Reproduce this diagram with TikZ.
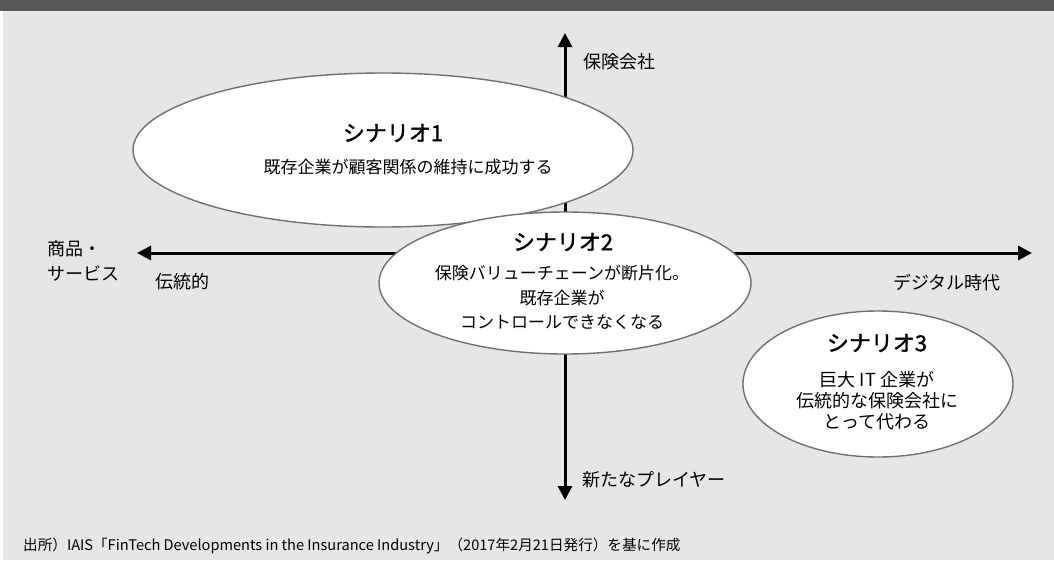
\documentclass[tikz,border=0pt]{standalone}
\usepackage{fontspec}
\setmainfont{Noto Sans CJK JP}
\newfontfamily\ttlfont[FakeBold=1.6]{Noto Sans CJK JP}
\usetikzlibrary{arrows.meta,shapes.geometric}
\definecolor{bgc}{HTML}{E6E6E6}
\definecolor{barc}{HTML}{595757}
\definecolor{edgec}{HTML}{707070}
\begin{document}
\begin{tikzpicture}[x=1pt,y=-1pt,
  axis/.style={line width=3pt, {Triangle[length=14pt,width=14pt]}-{Triangle[length=14pt,width=14pt]}},
  scen/.style={ellipse, draw=edgec, fill=white, line width=1.4pt, inner sep=0pt, outer sep=0pt},
  lbl/.style={inner sep=0pt, anchor=west, font=\fontsize{18}{25}\selectfont},
  ttl/.style={inner sep=0pt, font=\fontsize{22}{24}\ttlfont},
  body/.style={inner sep=0pt, align=center, font=\fontsize{17}{24.5}\selectfont}]
\useasboundingbox (0,0) rectangle (1054,560);
\fill[white] (0,0) rectangle (1054,560);
\fill[bgc] (3,11) rectangle (1054,560);
\fill[barc] (0,0) rectangle (1054,11);

\coordinate (top) at (565,33);
\coordinate (bot) at (565,500);
\coordinate (lft) at (137,253);
\coordinate (rgt) at (1032,253);
\draw[axis] (bot) -- (top);
\draw[axis] (lft) -- (rgt);

\node[scen, minimum width=500pt, minimum height=154pt] (s1) at (383,150) {};
\node[scen, minimum width=372pt, minimum height=142pt] (s2) at (565,283) {};
\node[scen, minimum width=270pt, minimum height=146pt] (s3) at (878,384) {};

\node[ttl] (t1) at (393,133) {シナリオ1};
\node[body] (b1) at (408,167) {既存企業が顧客関係の維持に成功する};
\node[ttl] (t2) at (563,242) {シナリオ2};
\node[body] (b2) at (562,297.5) {保険バリューチェーンが断片化。\\既存企業が\\コントロールできなくなる};
\node[ttl] (t3) at (877,343) {シナリオ3};
\node[body, font=\fontsize{18}{21}\selectfont] (b3) at (877,401) {巨大 IT 企業が\\伝統的な保険会社に\\とって代わる};

\node[lbl] (ins) at (583,62) {保険会社};
\node[lbl, align=left] (prod) at (47,260.5) {商品・\\サービス};
\node[lbl] (trad) at (155,282) {伝統的};
\node[lbl] (digi) at (893,283) {デジタル時代};
\node[lbl] (newp) at (582,480) {新たなプレイヤー};

\node[inner sep=0pt, anchor=west, font=\fontsize{14.6}{16}\selectfont] (src) at (23,546) {出所）IAIS「FinTech Developments in the Insurance Industry」（2017年2月21日発行）を基に作成};
\end{tikzpicture}
\end{document}
